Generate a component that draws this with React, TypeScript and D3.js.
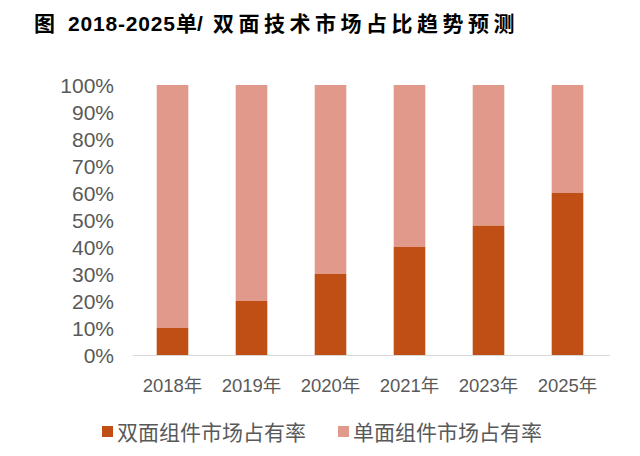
import React, { useEffect, useRef } from "react";
import * as d3 from "d3";

const years = ["2018年", "2019年", "2020年", "2021年", "2023年", "2025年"];
const bifacialShare = [10, 20, 30, 40, 48, 60];
const monofacialShare = [90, 80, 70, 60, 52, 40];
const seriesNames = ["双面组件市场占有率", "单面组件市场占有率"];
const seriesColors = ["#C04F15", "#E0998A"];
const yTicks = [0, 10, 20, 30, 40, 50, 60, 70, 80, 90, 100];

const WIDTH = 640;
const HEIGHT = 456;
const FONT = "'Liberation Sans', Arial, 'Noto Sans CJK SC', sans-serif";
const CJK = "'Noto Sans CJK SC', sans-serif";

export default function App() {
  const svgRef = useRef<SVGSVGElement>(null);

  useEffect(() => {
    if (!svgRef.current) return;
    const svg = d3.select(svgRef.current);
    svg.selectAll("*").remove();

    const left = 133;
    const right = 607;
    const top = 85;
    const bottom = 355;

    const x = d3.scaleBand().domain(years).range([left, right]).paddingInner(0.6).paddingOuter(0.3);
    const y = d3.scaleLinear().domain([0, 100]).range([bottom, top]);

    // 标题（分段排版，字距较宽）
    const title = svg
      .append("text")
      .attr("y", 31)
      .style("font-weight", "bold")
      .style("font-size", "21px")
      .style("fill", "#000");
    title.append("tspan").attr("x", 34).style("font-family", CJK).text("图");
    title
      .append("tspan")
      .attr("x", 68)
      .attr("textLength", 107)
      .attr("lengthAdjust", "spacing")
      .style("font-family", FONT)
      .text("2018-2025");
    title.append("tspan").attr("x", 176).style("font-family", CJK).text("单");
    title.append("tspan").attr("x", 197).style("font-family", FONT).text("/");
    const tail = "双面技术市场占比趋势预测".split("");
    title
      .append("tspan")
      .attr("x", tail.map((_c, i) => 213 + i * 25.5).join(" "))
      .style("font-family", CJK)
      .text(tail.join(""));

    // Y轴刻度
    svg
      .append("g")
      .selectAll("text")
      .data(yTicks)
      .enter()
      .append("text")
      .attr("x", 114)
      .attr("y", (d) => y(d))
      .attr("dy", "0.36em")
      .attr("text-anchor", "end")
      .text((d) => `${d}%`)
      .style("font-family", FONT)
      .style("font-size", "21px")
      .style("fill", "#595959");

    // 堆叠柱
    const stackData = years.map((yr, i) => ({ year: yr, a: bifacialShare[i], b: monofacialShare[i] }));
    const stacked = d3.stack<any>().keys(["a", "b"])(stackData);

    svg
      .append("g")
      .selectAll("g")
      .data(stacked)
      .enter()
      .append("g")
      .attr("fill", (_d, i) => seriesColors[i])
      .selectAll("rect")
      .data((d) => d)
      .enter()
      .append("rect")
      .attr("x", (d: any) => x(d.data.year) || 0)
      .attr("y", (d) => y(d[1]))
      .attr("width", x.bandwidth())
      .attr("height", (d) => y(d[0]) - y(d[1]));

    // X轴
    svg
      .append("line")
      .attr("x1", left)
      .attr("x2", right + 3)
      .attr("y1", bottom + 0.5)
      .attr("y2", bottom + 0.5)
      .attr("stroke", "#D9D9D9")
      .attr("stroke-width", 1);

    svg
      .append("g")
      .selectAll("text")
      .data(years)
      .enter()
      .append("text")
      .attr("x", (d) => (x(d) || 0) + x.bandwidth() / 2)
      .attr("y", 392)
      .attr("text-anchor", "middle")
      .text((d) => d)
      .style("font-family", FONT)
      .style("font-size", "18.5px")
      .style("fill", "#595959");

    // 图例
    const legendX = [102, 338];
    seriesNames.forEach((name, i) => {
      const g = svg.append("g").attr("transform", `translate(${legendX[i]},432)`);
      g.append("rect").attr("x", 0).attr("y", -6).attr("width", 11).attr("height", 11).attr("fill", seriesColors[i]);
      g.append("text")
        .attr("x", 15)
        .attr("y", 0)
        .attr("dy", "0.36em")
        .text(name)
        .style("font-family", CJK)
        .style("font-size", "21px")
        .style("fill", "#595959");
    });
  }, []);

  return (
    <svg
      ref={svgRef}
      width={WIDTH}
      height={HEIGHT}
      style={{ position: "absolute", left: 0, top: 0, background: "#fff" }}
    />
  );
}
